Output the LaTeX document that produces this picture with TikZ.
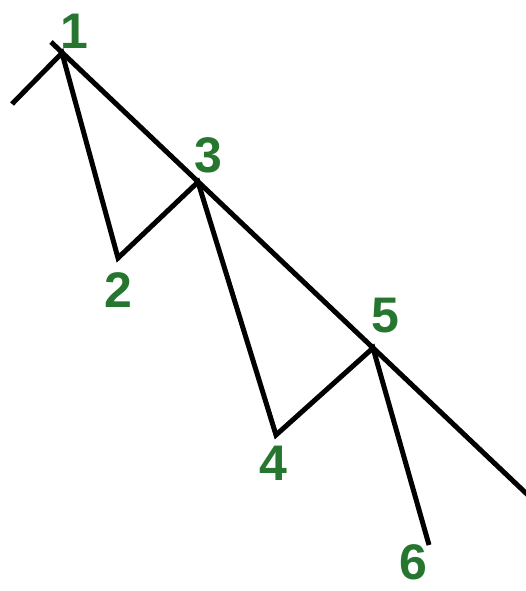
\documentclass[tikz,border=0pt]{standalone}
\usepackage{fontspec}
\setmainfont{Liberation Sans}
\definecolor{lblgreen}{RGB}{38,118,48}
\begin{document}
\begin{tikzpicture}[x=1pt,y=-1pt,
  wave/.style={line width=5pt,black,line join=miter,line cap=butt},
  lbl/.style={text=lblgreen,font=\fontsize{50}{50}\selectfont\bfseries,inner sep=0pt}]
\useasboundingbox (0,0) rectangle (526,591);
\fill[white] (0,0) rectangle (526,591);
\coordinate (s) at (12,104);
\coordinate (p1) at (62,53);
\coordinate (p2) at (118,258);
\coordinate (p3) at (198,182);
\coordinate (p4) at (276,435);
\coordinate (p5) at (373,348);
\coordinate (p6) at (429,545);
\coordinate (t0) at (51,42);
\coordinate (t1) at (530,497);
\draw[wave] (s) -- (p1) -- (p2) -- (p3) -- (p4) -- (p5) -- (p6);
\draw[wave] (t0) -- (t1);
\node[lbl] (l1) at (74,31) {1};
\node[lbl] (l2) at (118,290) {2};
\node[lbl] (l3) at (208,155) {3};
\node[lbl] (l4) at (273,463) {4};
\node[lbl] (l5) at (385,316) {5};
\node[lbl] (l6) at (413,562) {6};
\end{tikzpicture}
\end{document}
